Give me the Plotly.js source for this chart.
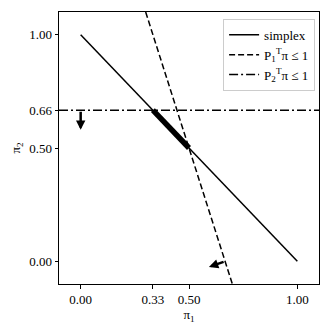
<!DOCTYPE html>
<html>
<head>
<meta charset="utf-8">
<script src="https://cdn.plot.ly/plotly-3.0.1.min.js"></script>
<style>html,body{margin:0;padding:0;background:#fff;}#chart{width:332px;height:332px;}</style>
</head>
<body>
<div id="chart"></div>
<script>
// Data
const simplexX = [0, 1];
const simplexY = [1, 0];
const p1X = [0.3, 0.7];          // dashed line P1^T pi <= 1
const p1Y = [1.1, -0.1];
const p2X = [-0.1, 1.1];         // dash-dot line P2^T pi <= 1
const p2Y = [2/3, 2/3];
const feasX = [1/3, 0.5];        // feasible segment
const feasY = [2/3, 0.5];
// arrows: tail and head
const arrowTailX = [2/3, 0];
const arrowTailY = [0, 2/3];
const arrowHeadX = [0.592, 0];
const arrowHeadY = [-0.025, 0.58];
const xTickVals = [0, 1/3, 0.5, 1];
const xTickText = ["0.00", "0.33", "0.50", "1.00"];
const yTickVals = [0, 0.5, 2/3, 1];
const yTickText = ["0.00", "0.50", "0.66", "1.00"];

const font = {family: "Liberation Serif, DejaVu Serif, serif", size: 13, color: "#000"};

const traces = [
  {x: simplexX, y: simplexY, mode: "lines", name: "simplex", line: {color: "#000", width: 1.5}},
  {x: p1X, y: p1Y, mode: "lines", name: "P<sub>1</sub><sup>T</sup>π ≤ 1", line: {color: "#000", width: 1.5, dash: "6px,3px"}},
  {x: p2X, y: p2Y, mode: "lines", name: "P<sub>2</sub><sup>T</sup>π ≤ 1", line: {color: "#000", width: 1.5, dash: "9px,3px,2px,3px"}},
  {x: feasX, y: feasY, mode: "lines", showlegend: false, line: {color: "#000", width: 5.5}}
];

const annotations = arrowTailX.map((tx, i) => ({
  x: arrowHeadX[i], y: arrowHeadY[i], ax: tx, ay: arrowTailY[i],
  xref: "x", yref: "y", axref: "x", ayref: "y",
  showarrow: true, arrowhead: 2, arrowsize: 0.75, arrowwidth: 2.5, arrowcolor: "#000",
  standoff: 0, startstandoff: 0, text: ""
}));

const axisCommon = {
  showgrid: false, zeroline: false, showline: true, mirror: true,
  linecolor: "#000", linewidth: 1, ticks: "outside", ticklen: 3.5, tickwidth: 1,
  tickcolor: "#000", tickfont: font
};

const layout = {
  width: 332, height: 332,
  margin: {l: 59, r: 12.5, t: 12, b: 48},
  paper_bgcolor: "#fff", plot_bgcolor: "#fff",
  font: font,
  xaxis: Object.assign({}, axisCommon, {
    range: [-0.1, 1.1], tickmode: "array", tickvals: xTickVals, ticktext: xTickText,
    title: {text: "π<sub>1</sub>", font: font, standoff: 1}
  }),
  yaxis: Object.assign({}, axisCommon, {
    range: [-0.1, 1.1], tickmode: "array", tickvals: yTickVals, ticktext: yTickText,
    title: {text: "π<sub>2</sub>", font: font, standoff: 5}
  }),
  showlegend: true,
  legend: {
    x: 0.985, y: 0.975, xanchor: "right", yanchor: "top",
    bgcolor: "rgba(255,255,255,0.8)", bordercolor: "#cccccc", borderwidth: 1,
    font: font, tracegroupgap: 0, itemwidth: 30
  },
  annotations: annotations
};

Plotly.newPlot("chart", traces, layout, {displayModeBar: false, staticPlot: true});
</script>
</body>
</html>
